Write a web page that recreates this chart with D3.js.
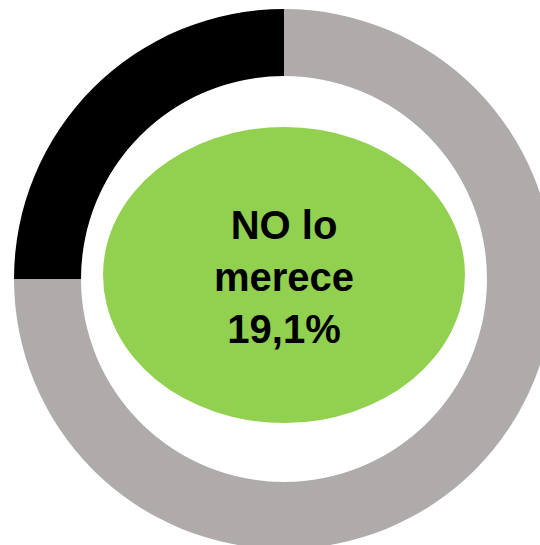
<!DOCTYPE html>
<html>
  <head>
    <meta charset="utf-8">
    <title></title>
  </head>
  <style>
  body{
      margin: 0;
      background-color: #fff;
      overflow: hidden
    }
  </style>
  <script src="https://d3js.org/d3.v7.min.js"></script>
  <body>
    <script>
    const segments = ["Resto", "NO lo merece"]
    const values = [75, 25]
    const colors = ["#afabab", "#000000"]
    const labelLines = ["NO lo", "merece", "19,1%"]

    var width = 540
    var height = 545
    var cx = 284, cy = 279
    var outerR = 270, innerR = 203

    var svg = d3.select("body")
                .append("svg")
                .attr("width", width)
                .attr("height", height)

    var pie = d3.pie().sort(null).value(function(d){ return d })
    var arc = d3.arc().innerRadius(innerR).outerRadius(outerR)

    var ring = svg.append("g")
                  .attr("transform", "translate(" + cx + "," + cy + ")")

    ring.selectAll("path")
        .data(pie(values))
        .enter()
        .append("path")
        .attr("d", arc)
        .attr("fill", function(d, i){ return colors[i] })
        .attr("class", function(d, i){ return "seg-" + i })

    // ovalo verde del centro
    svg.append("ellipse")
       .attr("cx", cx)
       .attr("cy", 275)
       .attr("rx", 181)
       .attr("ry", 148)
       .attr("fill", "#92d050")

    svg.append("g")
       .selectAll("text")
       .data(labelLines)
       .enter()
       .append("text")
       .text(function(d){ return d })
       .attr("x", cx)
       .attr("y", function(d, i){ return 239 + i * 52 })
       .attr("text-anchor", "middle")
       .attr("font-family", "Liberation Sans, Arial, sans-serif")
       .attr("font-weight", "bold")
       .attr("font-size", "40px")
       .attr("fill", "#000")
    </script>
  </body>
</html>
